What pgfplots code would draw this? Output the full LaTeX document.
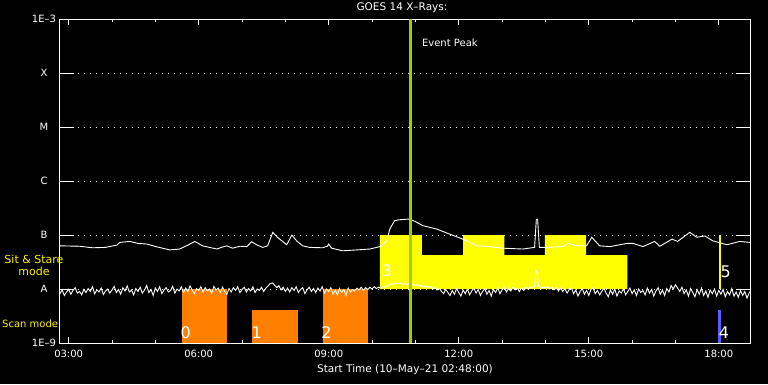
\documentclass[border=0pt]{standalone}
\usepackage{pgfplots}
\pgfplotsset{compat=1.18}
\usepackage{pgfplotstable}
\usepackage{fontspec}
\setmainfont{DejaVu Sans}
\definecolor{scanorange}{RGB}{255,128,0}
\definecolor{peakgreen}{RGB}{160,205,0}
\definecolor{scanblue}{RGB}{90,90,255}
\definecolor{stareyellow}{RGB}{255,255,0}

% GOES long channel (upper trace)
\pgfplotstableread[row sep=\\]{
h f\\
2.80 6.3e-8\\ 3.25 6.2e-8\\ 3.55 5.8e-8\\ 3.85 5.9e-8\\ 4.11 6.5e-8\\ 4.18 7.3e-8\\ 4.41 7.6e-8\\ 4.60 7.0e-8\\
4.80 6.8e-8\\ 5.05 6.0e-8\\ 5.33 5.3e-8\\ 5.56 5.5e-8\\ 5.75 6.5e-8\\ 5.91 7.6e-8\\ 6.09 6.3e-8\\ 6.25 5.9e-8\\
6.42 5.5e-8\\ 6.55 6.0e-8\\ 6.65 6.3e-8\\ 6.78 5.7e-8\\ 6.95 6.2e-8\\ 7.11 6.1e-8\\ 7.22 7.5e-8\\ 7.35 6.5e-8\\
7.48 5.9e-8\\ 7.59 6.3e-8\\ 7.71 1.12e-7\\ 7.82 9.0e-8\\ 7.92 7.8e-8\\ 8.03 6.6e-8\\ 8.15 1.0e-7\\ 8.26 7.8e-8\\
8.40 6.3e-8\\ 8.56 5.9e-8\\ 8.86 5.8e-8\\ 8.97 6.2e-8\\ 9.00 6.8e-8\\ 9.04 6.1e-8\\ 9.07 5.7e-8\\ 9.32 5.1e-8\\
9.65 5.3e-8\\ 9.95 5.5e-8\\ 10.18 6.1e-8\\ 10.34 7.8e-8\\ 10.41 1.29e-7\\ 10.52 1.84e-7\\ 10.64 1.92e-7\\ 10.87 1.98e-7\\
11.03 1.72e-7\\ 11.17 1.49e-7\\ 11.49 1.29e-7\\ 11.79 1.04e-7\\ 12.09 8.4e-8\\ 12.42 6.3e-8\\ 12.72 6.1e-8\\ 13.02 5.7e-8\\
13.48 5.5e-8\\ 13.75 5.9e-8\\ 13.79 1.95e-7\\ 13.82 1.95e-7\\ 13.86 5.9e-8\\ 14.03 5.9e-8\\ 14.40 6.1e-8\\ 14.52 7.0e-8\\
14.72 6.3e-8\\ 14.95 6.3e-8\\ 15.07 9.1e-8\\ 15.25 6.3e-8\\ 15.49 6.1e-8\\ 15.88 7.0e-8\\ 16.02 7.0e-8\\ 16.25 6.1e-8\\
16.52 7.6e-8\\ 16.64 6.2e-8\\ 16.92 8.4e-8\\ 17.05 7.6e-8\\ 17.33 1.12e-7\\ 17.49 9.1e-8\\ 17.68 9.6e-8\\ 17.86 7.8e-8\\
18.19 6.6e-8\\ 18.48 7.6e-8\\ 18.72 7.3e-8\\
}\longch

% GOES short channel (lower trace)
\pgfplotstableread[row sep=\\]{
h f\\
2.80 8.2e-9\\ 2.85 9.6e-9\\ 2.90 7.6e-9\\ 2.95 8.8e-9\\ 3.00 9.9e-9\\ 3.05 8.0e-9\\ 3.10 9.4e-9\\ 3.15 10.6e-9\\ 3.20 8.4e-9\\ 3.25 9.0e-9\\
3.30 7.8e-9\\ 3.35 9.8e-9\\ 3.40 8.6e-9\\ 3.45 10.2e-9\\ 3.50 9.0e-9\\ 3.55 11.0e-9\\ 3.60 8.2e-9\\ 3.65 9.6e-9\\ 3.70 8.8e-9\\ 3.75 10.4e-9\\
3.80 7.9e-9\\ 3.85 9.2e-9\\ 3.90 10.0e-9\\ 3.95 8.4e-9\\ 4.00 9.6e-9\\ 4.05 11.2e-9\\ 4.10 8.6e-9\\ 4.15 9.8e-9\\ 4.20 8.0e-9\\ 4.25 10.6e-9\\
4.30 9.2e-9\\ 4.35 11.4e-9\\ 4.40 8.8e-9\\ 4.45 9.6e-9\\ 4.50 7.8e-9\\ 4.55 10.2e-9\\ 4.60 9.0e-9\\ 4.65 10.8e-9\\ 4.70 8.4e-9\\ 4.75 9.6e-9\\
4.80 11.6e-9\\ 4.85 8.6e-9\\ 4.90 9.8e-9\\ 4.95 7.6e-9\\ 5.00 10.4e-9\\ 5.05 9.0e-9\\ 5.10 11.0e-9\\ 5.15 8.2e-9\\ 5.20 9.6e-9\\ 5.25 10.6e-9\\
5.30 8.8e-9\\ 5.35 9.4e-9\\ 5.40 11.2e-9\\ 5.45 8.4e-9\\ 5.50 10.0e-9\\ 5.55 9.2e-9\\ 5.60 11.0e-9\\ 5.65 8.6e-9\\ 5.70 10.4e-9\\ 5.75 9.0e-9\\
5.80 11.4e-9\\ 5.85 9.6e-9\\ 5.90 8.2e-9\\ 5.95 10.2e-9\\ 6.00 9.4e-9\\ 6.05 11.0e-9\\ 6.10 8.8e-9\\ 6.15 10.6e-9\\ 6.20 9.2e-9\\ 6.25 10.0e-9\\
6.30 8.4e-9\\ 6.35 11.2e-9\\ 6.40 9.6e-9\\ 6.45 10.4e-9\\ 6.50 8.6e-9\\ 6.55 10.8e-9\\ 6.60 9.0e-9\\ 6.65 8.0e-9\\ 6.70 10.2e-9\\ 6.75 8.8e-9\\
6.80 10.6e-9\\ 6.85 9.4e-9\\ 6.90 11.0e-9\\ 6.95 8.6e-9\\ 7.00 9.8e-9\\ 7.05 10.8e-9\\ 7.10 8.8e-9\\ 7.15 10.2e-9\\ 7.20 9.2e-9\\ 7.25 11.0e-9\\
7.30 8.6e-9\\ 7.35 10.0e-9\\ 7.40 9.4e-9\\ 7.45 10.8e-9\\ 7.50 9.0e-9\\ 7.55 10.4e-9\\ 7.60 11.4e-9\\ 7.65 12.6e-9\\ 7.70 13.0e-9\\ 7.75 11.8e-9\\
7.80 10.6e-9\\ 7.85 11.6e-9\\ 7.90 9.6e-9\\ 7.95 10.8e-9\\ 8.00 9.0e-9\\ 8.05 10.4e-9\\ 8.10 8.8e-9\\ 8.15 10.6e-9\\ 8.20 9.4e-9\\ 8.25 11.0e-9\\
8.30 8.6e-9\\ 8.35 9.8e-9\\ 8.40 10.6e-9\\ 8.45 8.2e-9\\ 8.50 9.6e-9\\ 8.55 10.8e-9\\ 8.60 9.0e-9\\ 8.65 10.2e-9\\ 8.70 8.6e-9\\ 8.75 10.4e-9\\
8.80 9.2e-9\\ 8.85 11.0e-9\\ 8.90 8.4e-9\\ 8.95 10.0e-9\\ 9.00 9.0e-9\\ 9.05 10.6e-9\\ 9.10 8.0e-9\\ 9.15 9.6e-9\\ 9.20 7.8e-9\\ 9.25 10.2e-9\\
9.30 8.6e-9\\ 9.35 9.8e-9\\ 9.40 7.6e-9\\ 9.45 10.4e-9\\ 9.50 8.8e-9\\ 9.55 9.8e-9\\ 9.60 9.2e-9\\ 9.65 10.4e-9\\ 9.70 9.6e-9\\ 9.75 10.8e-9\\
9.80 9.4e-9\\ 9.85 10.6e-9\\ 9.90 9.8e-9\\ 9.95 10.8e-9\\ 10.00 10.0e-9\\ 10.05 11.0e-9\\ 10.10 10.2e-9\\ 10.15 10.8e-9\\ 10.20 10.4e-9\\ 10.25 11.2e-9\\
10.30 10.8e-9\\ 10.35 11.6e-9\\ 10.40 12.0e-9\\ 10.45 12.6e-9\\ 10.50 12.2e-9\\ 10.55 12.8e-9\\ 10.60 12.4e-9\\ 10.65 13.0e-9\\ 10.70 12.2e-9\\ 10.75 12.8e-9\\
10.80 12.0e-9\\ 10.85 12.6e-9\\ 10.90 11.8e-9\\ 10.95 12.4e-9\\ 11.00 11.6e-9\\ 11.05 12.0e-9\\ 11.10 11.2e-9\\ 11.15 11.8e-9\\ 11.20 10.8e-9\\ 11.25 11.4e-9\\
11.30 10.6e-9\\ 11.35 11.2e-9\\ 11.40 10.0e-9\\ 11.45 10.8e-9\\ 11.50 9.6e-9\\ 11.55 10.4e-9\\ 11.60 9.0e-9\\ 11.65 8.2e-9\\ 11.70 9.8e-9\\ 11.75 8.6e-9\\
11.80 7.6e-9\\ 11.85 9.4e-9\\ 11.90 8.0e-9\\ 11.95 10.2e-9\\ 12.00 8.6e-9\\ 12.05 7.4e-9\\ 12.10 9.6e-9\\ 12.15 8.2e-9\\ 12.20 10.0e-9\\ 12.25 7.8e-9\\
12.30 9.2e-9\\ 12.35 10.4e-9\\ 12.40 8.4e-9\\ 12.45 9.8e-9\\ 12.50 7.6e-9\\ 12.55 9.0e-9\\ 12.60 10.2e-9\\ 12.65 8.0e-9\\ 12.70 9.4e-9\\ 12.75 7.4e-9\\
12.80 9.8e-9\\ 12.85 8.6e-9\\ 12.90 10.6e-9\\ 12.95 8.2e-9\\ 13.00 9.6e-9\\ 13.05 10.8e-9\\ 13.10 8.8e-9\\ 13.15 10.2e-9\\ 13.20 9.2e-9\\ 13.25 10.8e-9\\
13.30 9.6e-9\\ 13.35 10.4e-9\\ 13.40 9.0e-9\\ 13.45 10.6e-9\\ 13.50 9.4e-9\\ 13.55 10.8e-9\\ 13.60 10.0e-9\\ 13.65 11.0e-9\\ 13.70 10.4e-9\\ 13.75 11.2e-9\\
13.78 22.0e-9\\ 13.81 20.0e-9\\ 13.84 11.4e-9\\ 13.90 10.2e-9\\ 13.95 11.0e-9\\ 14.00 10.4e-9\\ 14.05 11.2e-9\\ 14.10 10.0e-9\\ 14.15 10.8e-9\\ 14.20 9.6e-9\\
14.25 10.6e-9\\ 14.30 9.2e-9\\ 14.35 10.4e-9\\ 14.40 9.0e-9\\ 14.45 10.2e-9\\ 14.50 8.4e-9\\ 14.55 9.8e-9\\ 14.60 10.6e-9\\ 14.65 8.2e-9\\ 14.70 9.6e-9\\
14.75 7.4e-9\\ 14.80 9.0e-9\\ 14.85 10.2e-9\\ 14.90 8.0e-9\\ 14.95 9.4e-9\\ 15.00 7.6e-9\\ 15.05 9.8e-9\\ 15.10 10.6e-9\\ 15.15 8.2e-9\\ 15.20 9.4e-9\\
15.25 7.8e-9\\ 15.30 9.0e-9\\ 15.35 10.4e-9\\ 15.40 8.4e-9\\ 15.45 7.2e-9\\ 15.50 9.6e-9\\ 15.55 8.0e-9\\ 15.60 10.0e-9\\ 15.65 7.4e-9\\ 15.70 9.2e-9\\
15.75 8.4e-9\\ 15.80 10.2e-9\\ 15.85 7.8e-9\\ 15.90 9.0e-9\\ 15.95 10.4e-9\\ 16.00 8.2e-9\\ 16.05 9.6e-9\\ 16.10 7.6e-9\\ 16.15 10.0e-9\\ 16.20 8.6e-9\\
16.25 9.4e-9\\ 16.30 7.8e-9\\ 16.35 10.4e-9\\ 16.40 8.4e-9\\ 16.45 9.8e-9\\ 16.50 7.4e-9\\ 16.55 9.2e-9\\ 16.60 10.6e-9\\ 16.65 8.0e-9\\ 16.70 9.6e-9\\
16.75 7.6e-9\\ 16.80 10.2e-9\\ 16.85 8.8e-9\\ 16.90 11.6e-9\\ 16.95 10.0e-9\\ 17.00 12.0e-9\\ 17.05 10.4e-9\\ 17.10 9.0e-9\\ 17.15 10.8e-9\\ 17.20 8.2e-9\\
17.25 9.6e-9\\ 17.30 7.4e-9\\ 17.35 10.2e-9\\ 17.40 8.6e-9\\ 17.45 7.2e-9\\ 17.50 9.8e-9\\ 17.55 8.0e-9\\ 17.60 10.4e-9\\ 17.65 7.6e-9\\ 17.70 9.2e-9\\
17.75 7.0e-9\\ 17.80 9.6e-9\\ 17.85 8.2e-9\\ 17.90 10.0e-9\\ 17.95 7.4e-9\\ 18.00 9.4e-9\\ 18.05 8.0e-9\\ 18.10 9.8e-9\\ 18.15 7.2e-9\\ 18.20 9.0e-9\\
18.25 7.8e-9\\ 18.30 10.2e-9\\ 18.35 7.4e-9\\ 18.40 8.8e-9\\ 18.45 7.0e-9\\ 18.50 9.4e-9\\ 18.55 7.6e-9\\ 18.60 9.0e-9\\ 18.65 6.8e-9\\ 18.70 8.4e-9\\
18.72 9.0e-9\\
}\shortch

\begin{document}
\begin{tikzpicture}
\useasboundingbox (-60pt,-41pt) rectangle (708pt,343pt);
\fill[black] (-60pt,-41pt) rectangle (708pt,343pt);
\begin{axis}[
  at={(0pt,0pt)}, anchor=south west,
  scale only axis, width=690pt, height=324pt,
  xmin=2.8, xmax=18.72,
  ymode=log, ymin=1e-9, ymax=1e-3,
  axis line style={white, line width=1pt},
  tick style={white, line width=1pt},
  major tick length=6pt, minor tick length=3pt,
  xtick={3,6,9,12,15,18},
  xticklabels={03:00,06:00,09:00,12:00,15:00,18:00},
  minor xtick={4,5,7,8,10,11,13,14,16,17},
  ytick={1e-9,1e-8,1e-7,1e-6,1e-5,1e-4,1e-3},
  yticklabels={1E\textendash 9,A,B,C,M,X,1E\textendash 3},
  yminorticks=false,
  ytick style={draw=none},
  ymajorgrids,
  major grid style={white, line width=1pt, dash pattern=on 1pt off 5pt},
  ticklabel style={font=\fontsize{10}{12}\selectfont, text=white},
  xticklabel style={anchor=center, yshift=-11pt},
  yticklabel style={anchor=center, xshift=-16pt},
  xlabel={Start Time (10\textendash May\textendash 21 02:48:00)},
  xlabel style={at={(0.5,0)}, anchor=center, yshift=-27pt, text=white, font=\fontsize{10.5}{12}\selectfont},
]
% scan mode bars
\addplot[fill=scanorange, draw=none] coordinates {(5.61,1e-9) (5.61,1e-8) (6.65,1e-8) (6.65,1e-9)} -- cycle;
\addplot[fill=scanorange, draw=none] coordinates {(7.23,1e-9) (7.23,4.08e-9) (8.29,4.08e-9) (8.29,1e-9)} -- cycle;
\addplot[fill=scanorange, draw=none] coordinates {(8.87,1e-9) (8.87,1e-8) (9.91,1e-8) (9.91,1e-9)} -- cycle;
\addplot[fill=scanblue, draw=none] coordinates {(17.98,1e-9) (17.98,4.08e-9) (18.06,4.08e-9) (18.06,1e-9)} -- cycle;
% sit & stare blocks
\addplot[fill=stareyellow, draw=none] coordinates {(10.18,1e-8) (10.18,1e-7) (11.15,1e-7) (11.15,4.26e-8) (12.10,4.26e-8) (12.10,1e-7) (13.05,1e-7) (13.05,4.26e-8) (13.99,4.26e-8) (13.99,1e-7) (14.94,1e-7) (14.94,4.26e-8) (15.89,4.26e-8) (15.89,1e-8)} -- cycle;
% X-ray fluxes
\addplot[white, line width=0.9pt] table[x=h, y=f] {\longch};
\addplot[white, line width=0.9pt] table[x=h, y=f] {\shortch};
\addplot[draw=stareyellow, line width=2pt] coordinates {(18.02,1e-8) (18.02,1e-7)};
% event peak
\addplot[peakgreen, line width=2.5pt] coordinates {(10.89,1e-9) (10.89,1e-3)};
\node[anchor=west, inner sep=0pt, text=white, font=\fontsize{10}{12}\selectfont] at (axis cs:11.15,3.6e-4) {Event Peak};
% block numbers
\node[text=white, inner sep=0pt, font=\fontsize{16}{16}\selectfont] at (axis cs:5.70,1.53e-9) {0};
\node[text=white, inner sep=0pt, font=\fontsize{16}{16}\selectfont] at (axis cs:7.34,1.53e-9) {1};
\node[text=white, inner sep=0pt, font=\fontsize{16}{16}\selectfont] at (axis cs:8.95,1.53e-9) {2};
\node[text=white, inner sep=0pt, font=\fontsize{16}{16}\selectfont] at (axis cs:10.34,2.15e-8) {3};
\node[text=white, inner sep=0pt, font=\fontsize{16}{16}\selectfont] at (axis cs:18.12,1.53e-9) {4};
\node[text=white, inner sep=0pt, font=\fontsize{16}{16}\selectfont] at (axis cs:18.16,2.07e-8) {5};
\end{axis}
% title
\node[text=white, inner sep=0pt, font=\fontsize{10.5}{12}\selectfont] at (342pt,335pt) {GOES 14 X\textendash Rays:};
% y ticks (long, both sides)
\foreach \k in {1,...,5} {
  \draw[white, line width=1pt] (0pt,{\k*54pt}) -- ++(14pt,0pt);
  \draw[white, line width=1pt] (690pt,{\k*54pt}) -- ++(-14pt,0pt);
}
\node[text=yellow, align=center, inner sep=0pt, font=\fontsize{11}{12}\selectfont] at (-26pt,78pt) {Sit \& Stare\\mode};
\node[text=yellow, anchor=west, inner sep=0pt, font=\fontsize{10}{12}\selectfont] at (-58pt,19pt) {Scan mode};
\end{tikzpicture}
\end{document}
